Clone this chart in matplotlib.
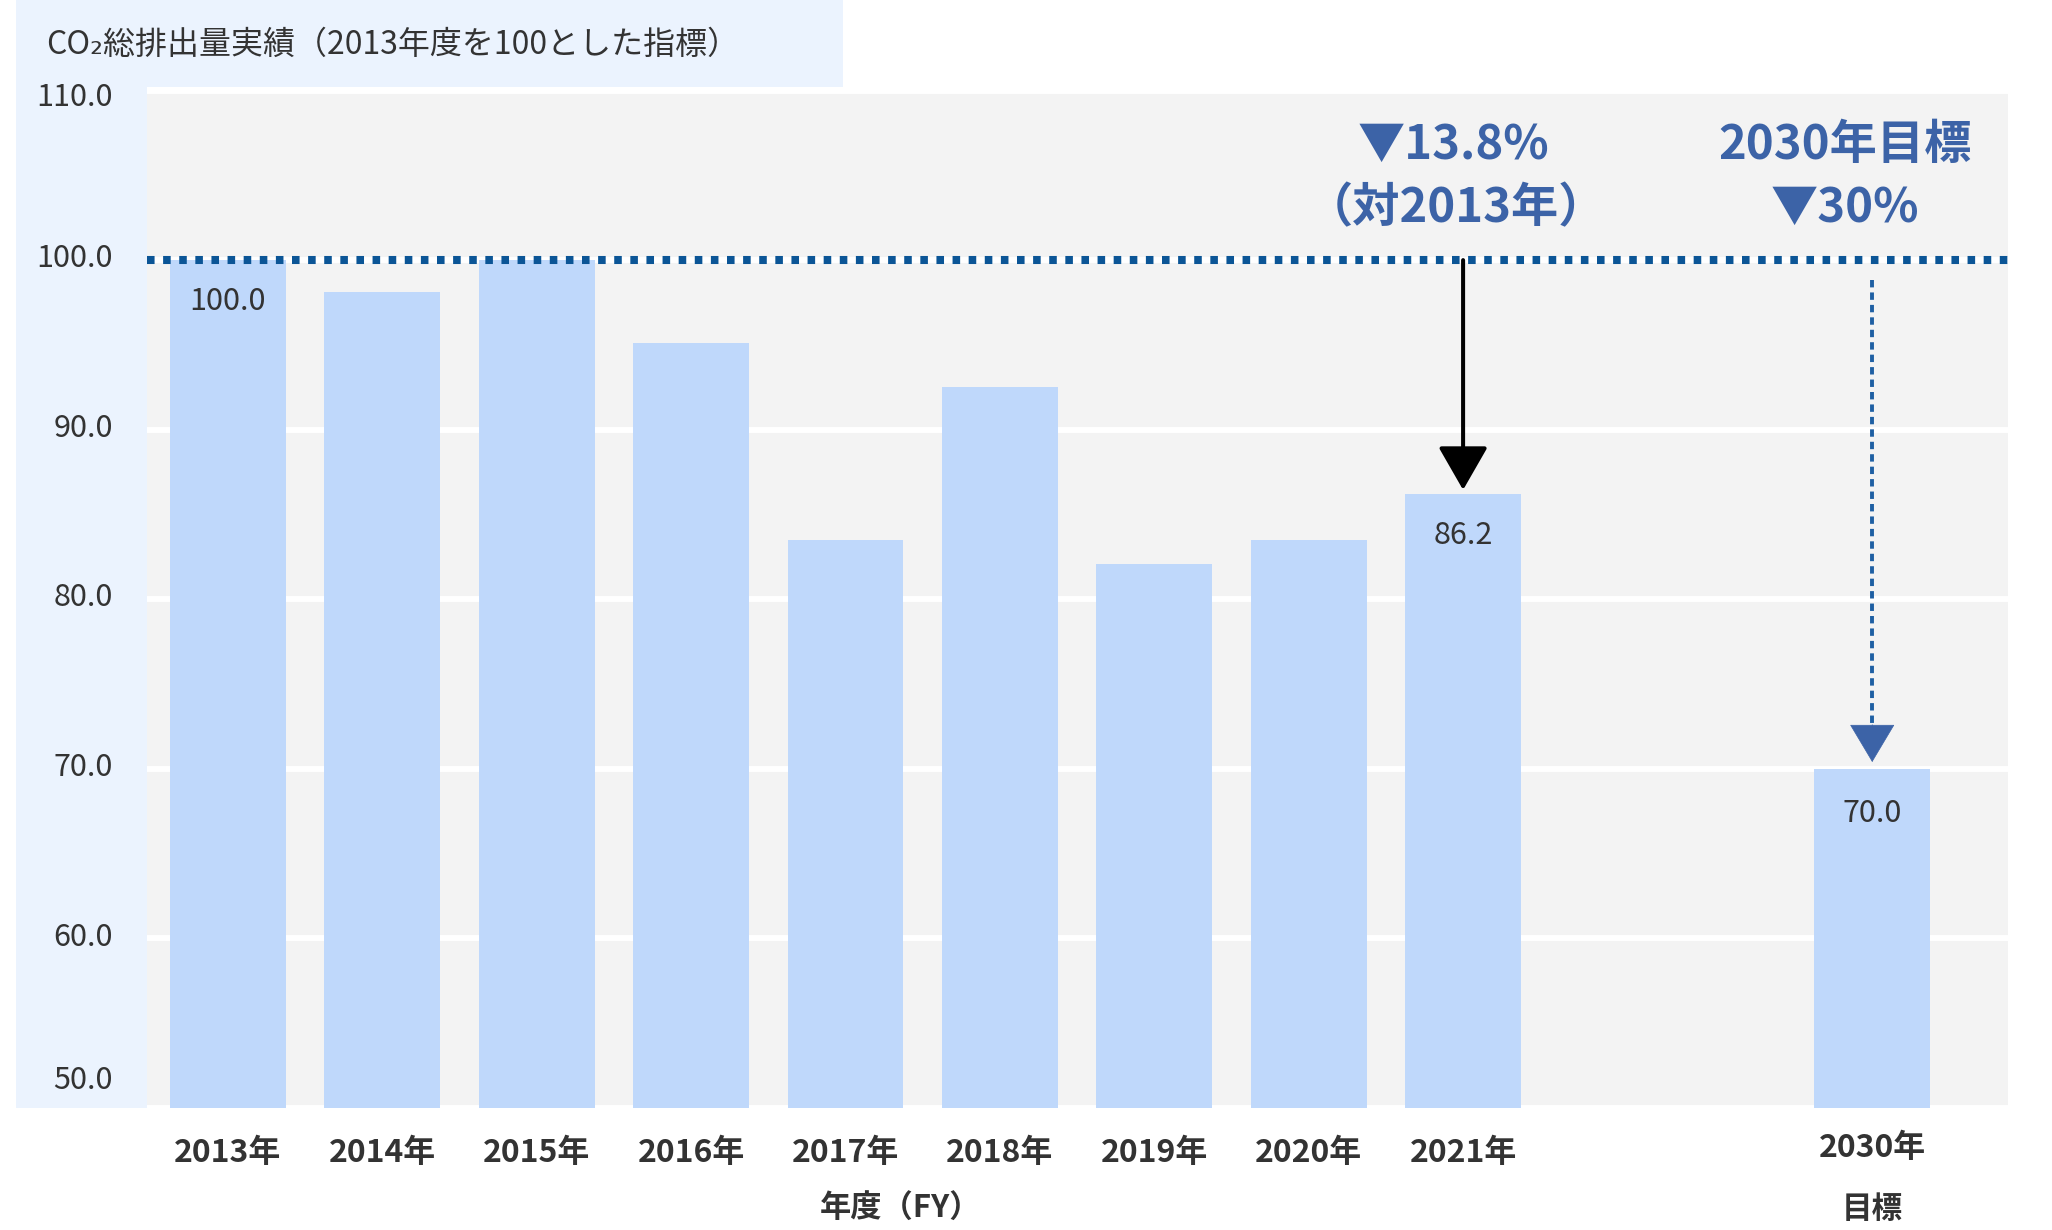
import matplotlib
matplotlib.use('Agg')
import matplotlib.pyplot as plt
from matplotlib.patches import Rectangle
import numpy as np

plt.rcParams['font.family'] = ['Noto Sans CJK JP', 'DejaVu Sans']

# data
years = ['2013年', '2014年', '2015年', '2016年', '2017年', '2018年', '2019年', '2020年', '2021年']
values = [100.0, 98.1, 100.0, 95.1, 83.5, 92.5, 82.1, 83.5, 86.2]
target_year = '2030年'
target_sub = '目標'
target_value = 70.0
labeled_years = ['2013年', '2021年']
base_value = 100.0
yticks = [50, 60, 70, 80, 90, 100, 110]

title = 'CO₂総排出量実績（2013年度を100とした指標）'
xlabel = '年度（FY）'
note_2021 = ['▼13.8%', '（対2013年）']
note_2030 = ['2030年目標', '▼30%']

# colours
panel_blue = '#EBF3FE'
bar_blue = '#BFD8FB'
plot_bg = '#F3F3F3'
dot_blue = '#0B5596'
accent = '#3C63A7'
text_dark = '#333333'

pos = np.arange(len(years))
target_pos = 10.65

fig = plt.figure(figsize=(20.52, 12.30), dpi=100, facecolor='white')

# light blue frame behind the y labels + header band
fig.patches.append(Rectangle((16/2052, 0.0992), (147-16)/2052, 1-0.0992,
                             transform=fig.transFigure, facecolor=panel_blue,
                             edgecolor='none', zorder=-5))
fig.patches.append(Rectangle((16/2052, 1-87/1230), (843-16)/2052, 87/1230,
                             transform=fig.transFigure, facecolor=panel_blue,
                             edgecolor='none', zorder=-5))

ax = fig.add_axes([0.0716, 0.0992, 0.9786-0.0716, 0.9264-0.0992], facecolor=plot_bg)
for s in ax.spines.values():
    s.set_visible(False)

ax.bar(pos, values, width=0.75, color=bar_blue, zorder=2)
ax.bar([target_pos], [target_value], width=0.75, color=bar_blue, zorder=2)

ax.set_xlim(-0.525, 11.53)
ax.set_ylim(50, 110)
ax.set_yticks(yticks)
ax.set_xticks([])
ax.yaxis.grid(True, color='white', lw=4.3)
ax.set_axisbelow(True)
ax.tick_params(length=0, labelleft=False, labelbottom=False)

# y labels, top and bottom ones nudged into the panel
for v in yticks:
    dy = 20 if v == 50 else (-5 if v == 110 else 1)
    ax.annotate(f'{v:.1f}', xy=(0, v), xycoords=('axes fraction', 'data'),
                xytext=(-24.5, dy), textcoords='offset points',
                ha='right', va='center', fontsize=22, color=text_dark,
                annotation_clip=False)

# x labels
for p, lab in zip(pos, years):
    ax.annotate(lab, xy=(p, 0), xycoords=('data', 'axes fraction'),
                xytext=(0, -32.5), textcoords='offset points',
                ha='center', va='center', fontsize=23, fontweight='bold',
                color=text_dark, annotation_clip=False)
ax.annotate(target_year, xy=(target_pos, 0), xycoords=('data', 'axes fraction'),
            xytext=(0, -28.5), textcoords='offset points',
            ha='center', va='center', fontsize=23, fontweight='bold',
            color=text_dark, annotation_clip=False)
ax.annotate(target_sub, xy=(target_pos, 0), xycoords=('data', 'axes fraction'),
            xytext=(0, -72.5), textcoords='offset points',
            ha='center', va='center', fontsize=22, fontweight='bold',
            color=text_dark, annotation_clip=False)
fig.text(901/2052, 1-1209/1230, xlabel, ha='center', va='center',
         fontsize=22.5, fontweight='bold', color=text_dark)

# title
fig.text(46/2052, 1-45/1230, title, ha='left', va='center', fontsize=23, color=text_dark)

# value labels inside bars
for p, lab, v in zip(pos, years, values):
    if lab in labeled_years:
        ax.annotate(f'{v:.1f}', xy=(p, v), xytext=(0, -29.5), textcoords='offset points',
                    ha='center', va='center', fontsize=22, color=text_dark, zorder=5)
ax.annotate(f'{target_value:.1f}', xy=(target_pos, target_value), xytext=(0, -32.5),
            textcoords='offset points', ha='center', va='center',
            fontsize=22, color=text_dark, zorder=5)

# 2013 baseline
ax.axhline(base_value, color=dot_blue, lw=5.8, linestyle=(0, (0.94, 1.06)),
           dash_capstyle='butt', zorder=4)

# arrow down to 2021
ax.annotate('', xy=(pos[-1], values[-1] + 0.25), xytext=(pos[-1], base_value),
            arrowprops=dict(arrowstyle='-|>,head_length=27,head_width=15.5',
                            mutation_scale=1, color='black', lw=2.9,
                            shrinkA=0, shrinkB=0), zorder=3)

# dotted arrow down to the 2030 target
ax.plot([target_pos, target_pos], [98.8, target_value + 2.4], color='#1E5FA3',
        lw=2.8, linestyle=(0, (1.9, 1.3)), zorder=3)
ax.annotate('', xy=(target_pos, target_value + 0.4), xytext=(target_pos, target_value + 2.6),
            arrowprops=dict(arrowstyle='-|>,head_length=26,head_width=15.5',
                            mutation_scale=1, color=accent, lw=0.5,
                            shrinkA=0, shrinkB=0), zorder=3)

# notes
fig.text(1453/2052, 1-145/1230, note_2021[0], ha='center', va='center',
         fontsize=34, fontweight='bold', color=accent)
fig.text(1456/2052, 1-208/1230, note_2021[1], ha='center', va='center',
         fontsize=34, fontweight='bold', color=accent)
fig.text(1845/2052, 1-145/1230, note_2030[0], ha='center', va='center',
         fontsize=34, fontweight='bold', color=accent)
fig.text(1845/2052, 1-208/1230, note_2030[1], ha='center', va='center',
         fontsize=34, fontweight='bold', color=accent)

fig.savefig('out.png', dpi=100, facecolor='white')
